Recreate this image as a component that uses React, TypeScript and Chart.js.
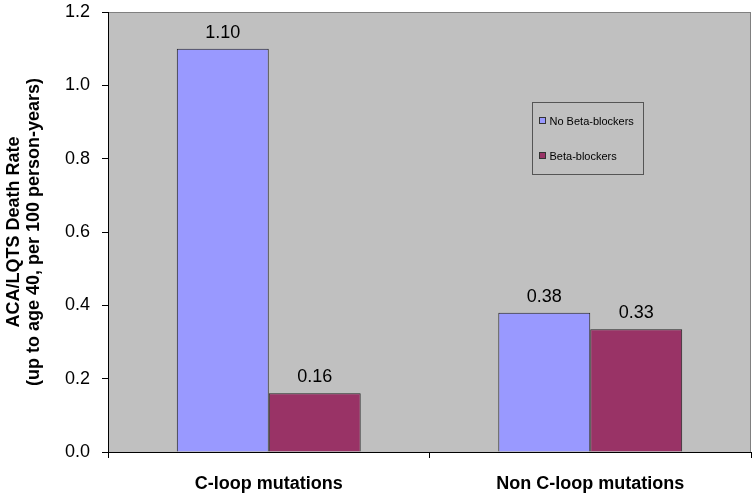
import React, { useEffect, useRef } from "react";
import { Chart, registerables } from "chart.js";

Chart.register(...registerables);

const categories = ["C-loop mutations", "Non C-loop mutations"];
const seriesNames = ["No Beta-blockers", "Beta-blockers"];
const noBetaBlockers = [1.1, 0.38];
const betaBlockers = [0.16, 0.335];
const valueLabels = [["1.10", "0.38"], ["0.16", "0.33"]];
const seriesColors = ["#9999FF", "#993366"];
const yTitle = ["ACA/LQTS Death Rate", "(up to age 40, per 100 person-years)"];

const FONT = "'Liberation Sans', Arial, sans-serif";

const plotBg = {
  id: "plotBg",
  beforeDraw(chart: any) {
    const { ctx, chartArea: a } = chart;
    ctx.save();
    ctx.fillStyle = "#C0C0C0";
    ctx.fillRect(a.left, a.top, a.right - a.left, a.bottom - a.top);
    ctx.strokeStyle = "#808080";
    ctx.lineWidth = 1;
    ctx.strokeRect(Math.round(a.left) + 0.5, Math.round(a.top) + 0.5, Math.round(a.right - a.left) - 1, Math.round(a.bottom - a.top));
    ctx.restore();
  },
};

const dataLabels = {
  id: "dataLabels",
  afterDatasetsDraw(chart: any) {
    const { ctx } = chart;
    ctx.save();
    ctx.font = `18px ${FONT}`;
    ctx.fillStyle = "#000";
    ctx.textAlign = "center";
    ctx.textBaseline = "middle";
    chart.data.datasets.forEach((ds: any, di: number) => {
      const meta = chart.getDatasetMeta(di);
      meta.data.forEach((el: any, i: number) => {
        ctx.fillText(valueLabels[di][i], el.x, el.y - 16);
      });
    });
    ctx.restore();
  },
};

const customLegend = {
  id: "customLegend",
  afterDraw(chart: any) {
    const { ctx, chartArea: a } = chart;
    const x = Math.round(a.left + 424) + 0.5;
    const y = Math.round(a.top + 90) + 0.5;
    const w = 111;
    const h = 72;
    ctx.save();
    ctx.fillStyle = "#C0C0C0";
    ctx.fillRect(x, y, w, h);
    ctx.strokeStyle = "#555555";
    ctx.lineWidth = 1;
    ctx.strokeRect(x, y, w, h);
    ctx.font = `11px ${FONT}`;
    ctx.textBaseline = "middle";
    ctx.textAlign = "left";
    const rows = [y + 18, y + 53];
    chart.data.datasets.forEach((ds: any, i: number) => {
      const cy = Math.round(rows[i]);
      ctx.fillStyle = ds.backgroundColor;
      ctx.fillRect(x + 7, cy - 3.5, 6, 6);
      ctx.strokeStyle = "#333";
      ctx.strokeRect(x + 7, cy - 3.5, 6, 6);
      ctx.fillStyle = "#000";
      ctx.fillText(ds.label, x + 17, cy + 0.5);
    });
    ctx.restore();
  },
};

export default function App() {
  const ref = useRef<HTMLCanvasElement | null>(null);
  useEffect(() => {
    if (!ref.current) return;
    const chart = new Chart(ref.current, {
      type: "bar",
      data: {
        labels: categories,
        datasets: [
          {
            label: seriesNames[0],
            data: noBetaBlockers,
            backgroundColor: seriesColors[0],
            borderColor: "#222",
            borderWidth: 1,
            categoryPercentage: 0.572,
            barPercentage: 1,
          },
          {
            label: seriesNames[1],
            data: betaBlockers,
            backgroundColor: seriesColors[1],
            borderColor: "#222",
            borderWidth: 1,
            categoryPercentage: 0.572,
            barPercentage: 1,
          },
        ],
      },
      options: {
        responsive: false,
        animation: false,
        devicePixelRatio: 1,
        layout: { padding: { top: 12, right: 5, left: 0, bottom: 0 } },
        plugins: {
          legend: { display: false },
          tooltip: { enabled: false },
        },
        scales: {
          x: {
            grid: {
              display: true,
              drawOnChartArea: false,
              drawTicks: true,
              tickLength: 6,
              color: "#000",
              offset: true,
            },
            border: { display: true, color: "#000", width: 1 },
            ticks: {
              color: "#000",
              font: { family: FONT, size: 18, weight: "bold" },
              padding: 15,
              maxRotation: 0,
            },
            afterFit(scale: any) {
              scale.height = 44;
              scale.paddingLeft = 0;
              scale.paddingRight = 0;
            },
          },
          y: {
            min: 0,
            max: 1.2,
            grid: {
              display: true,
              drawOnChartArea: false,
              drawTicks: true,
              tickLength: 6,
              color: "#000",
            },
            border: { display: true, color: "#000", width: 1 },
            ticks: {
              stepSize: 0.2,
              color: "#000",
              font: { family: FONT, size: 18 },
              padding: 12,
              callback: (v: any) => Number(v).toFixed(1),
            },
            title: {
              display: true,
              text: yTitle,
              color: "#000",
              font: { family: FONT, size: 18, weight: "bold", lineHeight: 1.1 },
              padding: { top: 4, bottom: 0 },
            },
            afterFit(scale: any) {
              scale.width = 108;
              scale.paddingTop = 0;
              scale.paddingBottom = 0;
            },
          },
        },
      },
      plugins: [plotBg, dataLabels, customLegend],
    });
    return () => chart.destroy();
  }, []);
  return (
    <div style={{ position: "absolute", left: 0, top: 0, width: 756, height: 496, background: "#fff" }}>
      <canvas ref={ref} width={756} height={496} style={{ display: "block" }} />
    </div>
  );
}
